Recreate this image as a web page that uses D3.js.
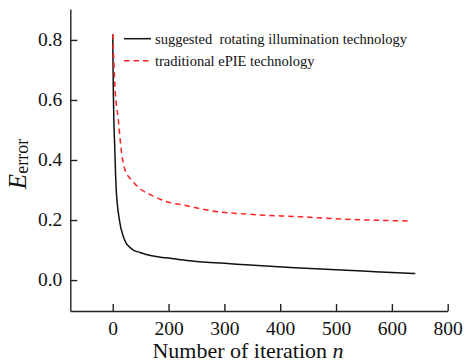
<!DOCTYPE html>
<html>
<head>
<meta charset="utf-8">
<title>Error vs iteration</title>
<script src="https://d3js.org/d3.v7.min.js"></script>
<style>
  body { margin: 0; background: #fff; }
  .axis path, .axis line { stroke: #222; stroke-width: 1.4px; }
</style>
</head>
<body>
<svg width="465" height="362"></svg>
<script>
// iteration n (tick units) and E_error of each method
var nSuggested = [0, 1, 4, 6, 12, 19, 24, 29, 37, 49, 70, 95, 121, 156, 200, 246, 318, 400, 470, 542];
var eSuggested = [0.82, 0.644, 0.42, 0.31, 0.2, 0.145, 0.123, 0.112, 0.1, 0.092, 0.081, 0.074, 0.068, 0.061, 0.056, 0.050, 0.042, 0.034, 0.028, 0.022];

var nEpie = [0, 4, 10, 16, 22, 34, 52, 67, 97, 126, 187, 246, 336, 425, 533];
var eEpie = [0.82, 0.644, 0.533, 0.422, 0.367, 0.333, 0.30, 0.285, 0.261, 0.25, 0.228, 0.219, 0.211, 0.202, 0.197];

var xTicks = [0, 100, 200, 300, 400, 500, 600];
var xTickLabels = ["0", "200", "300", "400", "500", "600", "800"];
var yTicks = [0.0, 0.2, 0.4, 0.6, 0.8];

var legendNames = ["suggested\u00a0\u00a0rotating illumination technology", "traditional ePIE technology"];

var serif = "'Liberation Serif', 'Times New Roman', serif";

var svg = d3.select("svg");

var x = d3.scaleLinear().domain([-76, 600]).range([70.3, 447.7]);
var y = d3.scaleLinear().domain([-0.103, 0.903]).range([311, 9]);

// y axis
var yAxis = svg.append("g")
    .attr("class", "axis")
    .attr("transform", "translate(" + x.range()[0] + ",0)")
    .call(d3.axisLeft(y).tickValues(yTicks).tickFormat(d3.format(".1f"))
      .tickSizeInner(-7).tickSizeOuter(0).tickPadding(8));
yAxis.selectAll("text")
    .attr("dy", "0.3em")
    .style("font-family", serif)
    .style("font-size", "19.5px")
    .style("fill", "#111");

// x axis
var xAxis = svg.append("g")
    .attr("class", "axis")
    .attr("transform", "translate(0," + y.range()[0] + ")")
    .call(d3.axisBottom(x).tickValues(xTicks)
      .tickFormat(function(d, i) { return xTickLabels[i]; })
      .tickSizeInner(-7).tickSizeOuter(0));
xAxis.selectAll("text")
    .attr("y", 24).attr("dy", 0)
    .style("font-family", serif)
    .style("font-size", "19.5px")
    .style("fill", "#111");

// curves
var line = d3.line()
    .x(function(d) { return x(d[0]); })
    .y(function(d) { return y(d[1]); })
    .curve(d3.curveMonotoneX);

svg.append("path")
    .datum(d3.zip(nSuggested, eSuggested))
    .attr("d", line)
    .attr("fill", "none")
    .attr("stroke", "#111")
    .attr("stroke-width", 1.5);

svg.append("path")
    .datum(d3.zip(nEpie, eEpie))
    .attr("d", line)
    .attr("fill", "none")
    .attr("stroke", "#f22")
    .attr("stroke-width", 1.5)
    .attr("stroke-dasharray", "5.5,4");

// legend
var legend = svg.append("g");
legendNames.forEach(function(name, i) {
  var ly = 38.7 + i * 22;
  legend.append("line")
    .attr("x1", 124).attr("x2", 151)
    .attr("y1", ly).attr("y2", ly)
    .attr("stroke", i == 0 ? "#111" : "#f22")
    .attr("stroke-width", 1.5)
    .attr("stroke-dasharray", i == 0 ? null : "5.5,4");
  legend.append("text")
    .attr("x", 155).attr("y", ly + 5)
    .style("font-family", serif)
    .style("font-size", "14.5px")
    .attr("fill", "#111")
    .text(name);
});

// axis titles
var xt = svg.append("text")
    .attr("x", 248).attr("y", 358)
    .attr("text-anchor", "middle")
    .style("font-family", serif)
    .style("font-size", "22px")
    .attr("fill", "#111");
xt.append("tspan").text("Number of iteration ");
xt.append("tspan").style("font-style", "italic").text("n");

var yt = svg.append("text")
    .attr("transform", "translate(26,164) rotate(-90)")
    .attr("text-anchor", "middle")
    .style("font-family", serif)
    .attr("fill", "#111");
yt.append("tspan").style("font-style", "italic").style("font-size", "25px").text("E");
yt.append("tspan").style("font-size", "18px").attr("dy", 2).text("error");
</script>
</body>
</html>
